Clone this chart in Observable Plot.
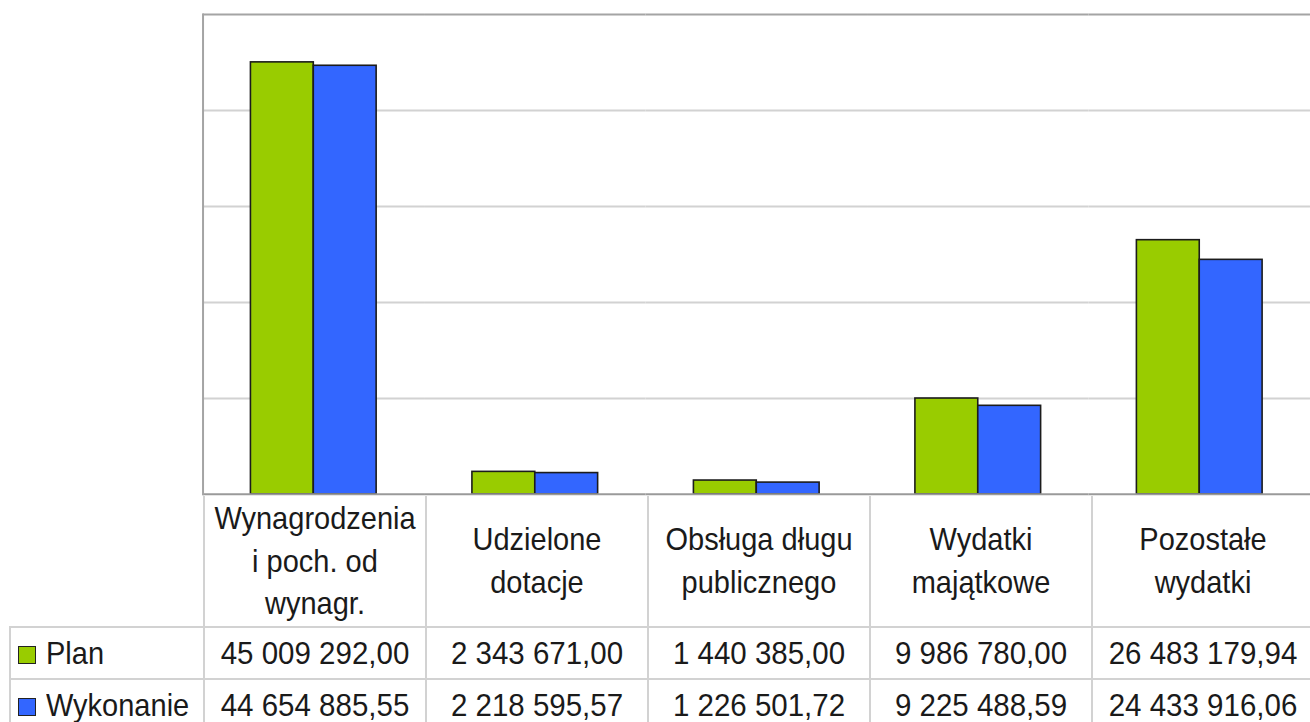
<!DOCTYPE html>
<html><head><meta charset="utf-8">
<script src="https://cdn.jsdelivr.net/npm/d3@7"></script>
<script src="https://cdn.jsdelivr.net/npm/@observablehq/plot@0.6"></script>
<style>
html,body{margin:0;padding:0;background:#fff;overflow:hidden;}
#wrap{position:relative;width:1310px;height:722px;overflow:hidden;font-family:"Liberation Sans",Arial,sans-serif;color:#1a1a1a;}
#chart{position:absolute;left:0;top:0;}
#chart svg{overflow:visible;}
table{position:absolute;border-collapse:collapse;table-layout:fixed;}
td{padding:0;text-align:center;vertical-align:middle;border:2px solid #d2d2d2;overflow:hidden;white-space:nowrap;}
td.lab{font-size:29px;line-height:40px;white-space:pre-line;border-top:none;}
td.num{font-size:29.5px;}
td.leg{font-size:29px;text-align:left;padding-left:7px;}
.sy{display:inline-block;transform:scaleY(1.06);}
.sw{display:inline-block;width:16px;height:16px;border:1.5px solid #222;margin-right:10px;vertical-align:-1px;}
</style>
</head><body>
<div id="wrap"><div id="chart"></div></div>
<script>
const categories = ["Wynagrodzenia\ni poch. od\nwynagr.", "Udzielone\ndotacje", "Obsługa długu\npublicznego", "Wydatki\nmajątkowe", "Pozostałe\nwydatki"];
const series = ["Plan", "Wykonanie"];
const planValues = [45009292.00, 2343671.00, 1440385.00, 9986780.00, 26483179.94];
const wykonanieValues = [44654885.55, 2218595.57, 1226501.72, 9225488.59, 24433916.06];
const gridTicks = [10e6, 20e6, 30e6, 40e6];
const yMax = 50e6;
const seriesColors = ["#99cc00", "#3366ff"];

const valuesBySeries = {Plan: planValues, Wykonanie: wykonanieValues};
const rows = categories.flatMap((c, i) => series.map(s => ({category: c, series: s, value: valuesBySeries[s][i]})));
const fmt = d3.formatLocale({decimal: ",", thousands: " ", grouping: [3], currency: ["", ""]}).format(",.2f");

const plot = Plot.plot({
  width: 1313, height: 497,
  marginLeft: 202, marginRight: 0, marginTop: 14, marginBottom: 2,
  fx: {domain: categories, padding: 0, axis: null, label: null},
  x: {domain: series, paddingInner: 0, paddingOuter: 0.736, axis: null},
  y: {domain: [0, yMax], axis: null},
  color: {domain: series, range: seriesColors},
  marks: [
    Plot.ruleY(gridTicks, {stroke: "#d2d2d2", strokeWidth: 2}),
    Plot.ruleY([yMax], {stroke: "#a4a4a4", strokeWidth: 2}),
    Plot.barY(rows, {fx: "category", x: "series", y: "value", fill: "series", stroke: "#1c1c1c", strokeWidth: 1.6}),
    Plot.ruleY([0], {stroke: "#9a9a9a", strokeWidth: 2}),
    Plot.frame({anchor: "left", facetAnchor: "left", stroke: "#a4a4a4", strokeWidth: 2})
  ]
});
document.getElementById("chart").appendChild(plot);

// data table aligned to the fx scale
const fx = plot.scale("fx");
const step = fx.step || fx.bandwidth;
const x0 = fx.apply(categories[0]);
const tableLeft = 9;
const table = document.createElement("table");
table.style.left = tableLeft + "px";
table.style.top = "496px";
table.style.width = (x0 - tableLeft + step * categories.length) + "px";
const cg = document.createElement("colgroup");
[x0 - tableLeft, ...categories.map(() => step)].forEach(w => {
  const col = document.createElement("col"); col.style.width = w + "px"; cg.appendChild(col);
});
table.appendChild(cg);
const hr = table.insertRow();
hr.style.height = "131px";
const c0 = hr.insertCell(); c0.style.border = "none"; c0.style.borderRight = "2px solid #d2d2d2"; c0.style.borderBottom = "2px solid #d2d2d2";
categories.forEach(c => {
  const td = hr.insertCell(); td.className = "lab";
  const sp = document.createElement("span"); sp.className = "sy"; sp.textContent = c; td.appendChild(sp);
});
const colorScale = plot.scale("color");
series.forEach(s => {
  const tr = table.insertRow();
  tr.style.height = "52px";
  const lc = tr.insertCell(); lc.className = "leg";
  const sw = document.createElement("span"); sw.className = "sw"; sw.style.background = colorScale.apply(s);
  const t = document.createElement("span"); t.className = "sy"; t.textContent = s;
  lc.appendChild(sw); lc.appendChild(t);
  valuesBySeries[s].forEach(v => {
    const td = tr.insertCell(); td.className = "num";
    const sp = document.createElement("span"); sp.className = "sy"; sp.textContent = fmt(v); td.appendChild(sp);
  });
});
document.getElementById("wrap").appendChild(table);
</script>
</body></html>
